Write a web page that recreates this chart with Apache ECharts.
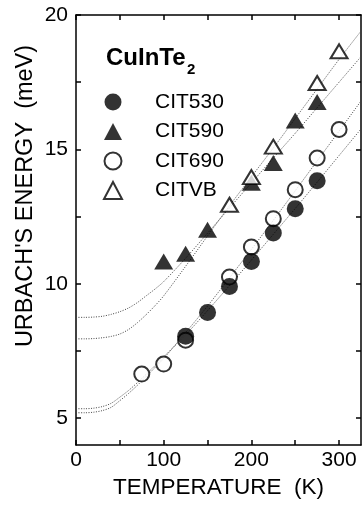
<!DOCTYPE html>
<html><head><meta charset="utf-8">
<script src="https://cdn.jsdelivr.net/npm/echarts@6/dist/echarts.min.js"></script>
<style>html,body{margin:0;padding:0;background:#fff}#c{width:362px;height:506px}</style>
</head><body><div id="c"></div>
<script>
const FONT = '"Liberation Sans", Arial, Helvetica, sans-serif';

// Measured data points [T (K), Urbach energy (meV)]
const cit530 = [[125,8.05],[150,8.93],[175,9.9],[200,10.83],[225,11.89],[250,12.79],[275,13.83]];
const cit590 = [[100,10.83],[125,11.12],[150,12.01],[200,13.76],[225,14.49],[250,16.07],[275,16.76]];
const cit690 = [[75,6.64],[100,7.01],[125,7.9],[175,10.25],[200,11.37],[225,12.42],[250,13.5],[275,14.68],[300,15.74]];
const citvb  = [[175,12.94],[200,13.97],[225,15.1],[275,17.47],[300,18.65]];

// Fit curves (dotted lines)
const fitT   = [0,10,20,30,40,50,60,70,80,90,100,125,150,175,200,225,250,275,300,325];
const fit530 = [5.35,5.35,5.37,5.43,5.55,5.78,6.03,6.32,6.63,6.95,7.28,8.1,9.0,9.93,10.88,11.84,12.8,13.78,14.77,15.76];
const fit590 = [8.75,8.75,8.76,8.79,8.86,8.96,9.1,9.3,9.55,9.8,10.08,10.95,11.88,12.82,13.75,14.68,15.6,16.55,17.5,18.45];
const fit690 = [5.2,5.2,5.22,5.28,5.4,5.65,5.92,6.22,6.55,6.88,7.22,8.18,9.17,10.22,11.28,12.36,13.46,14.57,15.68,16.8];
const fitVB  = [7.95,7.95,7.96,7.99,8.04,8.13,8.3,8.55,8.85,9.18,9.55,10.65,11.78,12.9,13.98,15.05,16.15,17.25,18.35,19.4];

// Axis ticks / labels
const xTickValues  = [0,50,100,150,200,250,300];
const xLabelValues = [0,100,200,300];
const yTickValues  = [5,7.5,10,12.5,15,17.5,20];
const yLabelValues = [5,10,15,20];

const pairs = (ys) => fitT.map((t,i) => [t, ys[i]]);

const chart = echarts.init(document.getElementById('c'), null, {renderer:'canvas'});

const axisLine = {show:true, onZero:false, lineStyle:{color:'#000', width:1.5}};
const tick = (vals) => ({show:true, inside:true, length:5, customValues:vals, lineStyle:{color:'#000', width:1.5}});
const lbl = {color:'#000', fontSize:21, fontFamily:FONT};

const fitLine = (name, ys) => ({
  type:'line', name:name, data:pairs(ys), smooth:0.3, showSymbol:false, silent:true,
  lineStyle:{color:'#444', width:1, type:[1,1.5]}, z:1, legendHoverLink:false
});

const openStyle = {color:'#fff', borderColor:'#000', borderWidth:2};
const fillStyle = {color:'#000'};

chart.setOption({
  animation:false,
  backgroundColor:'#fff',
  grid:{left:76, top:15, width:285, height:430, containLabel:false},
  xAxis:[
    {type:'value', position:'bottom', min:0, max:325,
     axisLine:axisLine, axisTick:tick(xTickValues), splitLine:{show:false},
     axisLabel:Object.assign({margin:5, customValues:xLabelValues}, lbl),
     name:'TEMPERATURE  (K)', nameLocation:'middle', nameGap:29,
     nameTextStyle:{color:'#000', fontSize:22.5, fontFamily:FONT}},
    {type:'value', position:'top', min:0, max:325,
     axisLine:axisLine, axisTick:tick(xTickValues), splitLine:{show:false}, axisLabel:{show:false}}
  ],
  yAxis:[
    {type:'value', position:'left', min:4, max:20,
     axisLine:axisLine, axisTick:tick(yTickValues), splitLine:{show:false},
     axisLabel:Object.assign({margin:8, customValues:yLabelValues}, lbl)},
    {type:'value', position:'right', min:4, max:20,
     axisLine:axisLine, axisTick:tick(yTickValues), splitLine:{show:false}, axisLabel:{show:false}}
  ],
  legend:{
    orient:'vertical', left:103, top:91.5, itemWidth:18, itemHeight:17, itemGap:8.5,
    selectedMode:false, padding:0,
    textStyle:{color:'#000', fontSize:21, fontFamily:FONT, padding:[0,0,0,28]},
    data:[
      {name:'CIT530', icon:'circle', itemStyle:fillStyle},
      {name:'CIT590', icon:'triangle', itemStyle:fillStyle},
      {name:'CIT690', icon:'circle', itemStyle:openStyle},
      {name:'CITVB', icon:'triangle', itemStyle:openStyle}
    ]
  },
  graphic:[
    {type:'text', left:106, top:46, style:{text:'CuInTe', font:'bold 24px '+FONT, fill:'#000'}},
    {type:'text', left:187, top:62, style:{text:'2', font:'bold 15px '+FONT, fill:'#000'}},
    {type:'text', x:26, y:196, rotation:Math.PI/2,
     style:{text:"URBACH'S ENERGY  (meV)", font:'23.5px '+FONT, fill:'#000', align:'center', verticalAlign:'middle'}}
  ],
  series:[
    fitLine('fit530', fit530),
    fitLine('fit590', fit590),
    fitLine('fit690', fit690),
    fitLine('fitVB', fitVB),
    {type:'scatter', name:'CIT690', data:cit690, symbol:'circle', symbolSize:15, itemStyle:openStyle, z:2},
    {type:'scatter', name:'CIT530', data:cit530, symbol:'circle', symbolSize:17, itemStyle:fillStyle, z:3},
    {type:'scatter', name:'CIT590', data:cit590, symbol:'triangle', symbolSize:[19,16], itemStyle:fillStyle, z:4},
    {type:'scatter', name:'CITVB', data:citvb, symbol:'triangle', symbolSize:[17,14], itemStyle:openStyle, z:5}
  ]
});
</script></body></html>
